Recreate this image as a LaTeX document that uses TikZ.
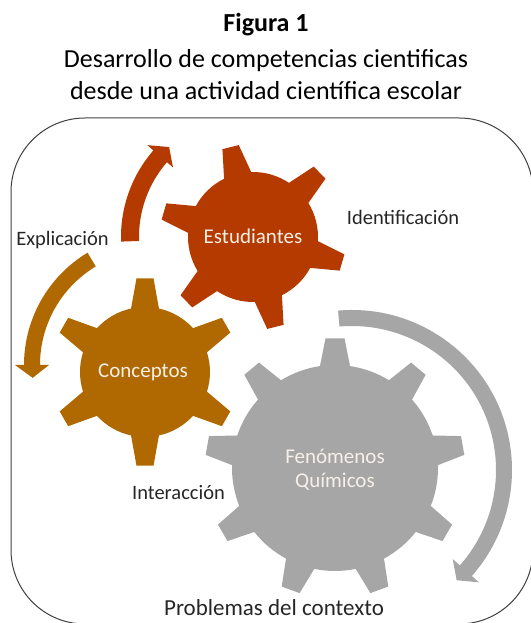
\documentclass[tikz,border=0pt]{standalone}
\usepackage{fontspec}
\setmainfont{Carlito}
\definecolor{rust}{RGB}{180,58,0}
\definecolor{ochre}{RGB}{176,104,0}
\definecolor{ash}{RGB}{166,166,166}
\definecolor{cream}{RGB}{246,240,232}
\tikzset{caption/.style={font=\fontsize{26}{30}\selectfont,anchor=base}}
\tikzset{gearlabel/.style={text=cream,font=\fontsize{21}{24}\selectfont,align=center}}
\tikzset{stagelabel/.style={text=black!85,font=\fontsize{20.5}{24}\selectfont,anchor=base}}
\tikzset{frame/.style={draw=black!75,line width=1pt,rounded corners=74pt}}
% gear: teeth / outer r / inner r / tip half-angle / base half-angle / rotation
\tikzset{pics/gear/.style n args={6}{code={
  \pgfmathsetmacro\gstep{360/#1}
  \fill ({#6-#5}:#3) foreach \k in {1,...,#1}{
    -- ({#6+(\k-1)*\gstep-#5}:#3) -- ({#6+(\k-1)*\gstep-#4}:#2)
    -- ({#6+(\k-1)*\gstep+#4}:#2) -- ({#6+(\k-1)*\gstep+#5}:#3)
    arc[start angle={#6+(\k-1)*\gstep+#5}, delta angle={\gstep-2*#5}, radius=#3]
  } -- cycle;
}}}
% swirl: tail angle / head base angle / tip angle / mid radius / half band / half head
\tikzset{pics/swirl/.style n args={6}{code={
  \pgfmathsetmacro\ro{#4+#5}
  \pgfmathsetmacro\ri{#4-#5}
  \pgfmathsetmacro\ho{#4+#6}
  \pgfmathsetmacro\hi{#4-#6}
  \fill (#1:\ro) arc[start angle=#1, end angle=#2, radius=\ro]
    -- (#2:\ho) -- (#3:#4) -- (#2:\hi) -- (#2:\ri)
    arc[start angle=#2, end angle=#1, radius=\ri] -- cycle;
}}}

\begin{document}
\begin{tikzpicture}[x=1pt,y=1pt]
  \useasboundingbox (0,0) rectangle (530,623);
  % title
  \node[caption,font=\fontsize{26}{30}\selectfont\bfseries] (fig) at (266,591) {Figura 1};
  \node[caption] (tit1) at (266,555) {Desarrollo de competencias cientificas};
  \node[caption] (tit2) at (266,523) {desde una actividad científica escolar};
  \draw[frame] (11,-1) rectangle (533,505);
  % arrows round the gears
  \pic[color=rust] (arrest) at (253,386) {swirl={182}{139}{133}{123}{9}{17}};
  \pic[color=ochre] (arrcon) at (155,258) {swirl={121}{180}{186}{123}{8}{17}};
  \pic[color=ash] (arrfen) at (352,153) {swirl={95}{-41.5}{-46.5}{152}{8}{17.5}};
  % gears
  \pic[color=rust] (gest) at (253,386) {gear={6}{93}{65}{5.2}{12.4}{104}};
  \pic[color=ochre] (gcon) at (145,251) {gear={6}{94}{65}{5.2}{12.4}{90}};
  \pic[color=ash] (gfen) at (335,155) {gear={9}{130}{103}{4.2}{8.4}{90}};
  \node[gearlabel] (est) at (253,387) {Estudiantes};
  \node[gearlabel] (con) at (143,251) {Conceptos};
  \node[gearlabel] (fen) at (335,153) {Fenómenos\\Químicos};
  % labels
  \node[stagelabel] (expl) at (62.5,377) {Explicación};
  \node[stagelabel] (ident) at (403,398) {Identificación};
  \node[stagelabel] (inter) at (178.5,123) {Interacción};
  \node[stagelabel,font=\fontsize{23}{26}\selectfont] (prob) at (274,7) {Problemas del contexto};
\end{tikzpicture}
\end{document}
